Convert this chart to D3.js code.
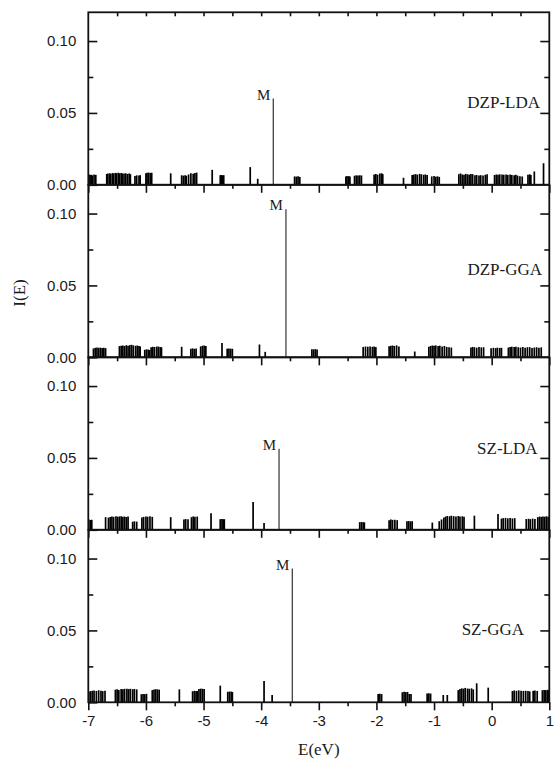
<!DOCTYPE html>
<html>
<head>
<meta charset="utf-8">
<script src="https://cdn.jsdelivr.net/npm/d3@7"></script>
<style>
  html, body { margin: 0; padding: 0; background: #fff; }
  svg { display: block; }
</style>
</head>
<body>
<svg id="chart" width="555" height="763"></svg>
<script>
// ---------------- DATA ----------------
const panelNames = ["DZP-LDA", "DZP-GGA", "SZ-LDA", "SZ-GGA"];
const xTickLabels = [-7, -6, -5, -4, -3, -2, -1, 0, 1];
const yTickLabels = [0.00, 0.05, 0.10];
const peakLabel = "M";

// [E (eV), I(E)]
const dzpLda = [
  [-6.99,0.0072],[-6.97,0.0068],[-6.95,0.0070],[-6.93,0.0066],[-6.90,0.0071],[-6.87,0.0069],
  [-6.68,0.0075],[-6.66,0.0078],[-6.63,0.0080],[-6.61,0.0077],[-6.58,0.0082],[-6.56,0.0079],[-6.53,0.0083],[-6.51,0.0081],[-6.48,0.0084],[-6.46,0.0080],[-6.43,0.0082],[-6.41,0.0079],
  [-6.38,0.0078],[-6.35,0.0080],[-6.32,0.0076],[-6.29,0.0079],[-6.27,0.0074],
  [-6.19,0.0062],[-6.16,0.0066],[-6.12,0.0064],[-6.10,0.0067],
  [-6.00,0.0080],[-5.98,0.0083],[-5.95,0.0085],[-5.92,0.0082],[-5.90,0.0084],
  [-5.57,0.0080],
  [-5.38,0.0066],[-5.35,0.0064],[-5.32,0.0067],[-5.30,0.0063],
  [-5.26,0.0072],[-5.22,0.0080],[-5.18,0.0077],[-5.15,0.0082],[-5.12,0.0085],
  [-4.85,0.0104],
  [-4.71,0.0067],[-4.69,0.0068],[-4.67,0.0066],[-4.65,0.0067],
  [-4.19,0.0123],
  [-4.06,0.0042],
  [-3.79,0.0600],
  [-3.42,0.0058],[-3.39,0.0057],[-3.36,0.0059],[-3.33,0.0055],
  [-2.53,0.0058],[-2.51,0.0061],[-2.48,0.0060],[-2.46,0.0057],
  [-2.38,0.0063],[-2.35,0.0066],[-2.32,0.0064],[-2.29,0.0066],[-2.26,0.0065],
  [-2.04,0.0072],[-2.01,0.0075],[-1.98,0.0071],[-1.94,0.0079],[-1.91,0.0080],[-1.89,0.0074],
  [-1.53,0.0049],
  [-1.38,0.0068],[-1.35,0.0072],[-1.32,0.0074],[-1.29,0.0071],[-1.25,0.0076],[-1.22,0.0073],[-1.18,0.0070],[-1.15,0.0072],[-1.12,0.0068],
  [-1.04,0.0058],[-1.00,0.0062],[-0.97,0.0056],[-0.94,0.0059],[-0.91,0.0055],
  [-0.57,0.0074],[-0.54,0.0079],[-0.51,0.0072],[-0.48,0.0070],[-0.45,0.0076],[-0.42,0.0073],[-0.39,0.0071],[-0.36,0.0075],[-0.33,0.0074],
  [-0.29,0.0066],[-0.26,0.0068],[-0.22,0.0064],[-0.19,0.0067],[-0.15,0.0065],[-0.11,0.0070],[-0.08,0.0073],
  [0.05,0.0068],[0.08,0.0072],[0.11,0.0070],[0.14,0.0073],[0.18,0.0071],[0.21,0.0070],[0.25,0.0072],[0.28,0.0069],[0.32,0.0071],[0.35,0.0068],[0.39,0.0066],[0.42,0.0070],[0.45,0.0064],
  [0.49,0.0060],[0.53,0.0058],
  [0.63,0.0070],[0.66,0.0073],[0.68,0.0069],
  [0.74,0.0093],
  [0.90,0.0150]
];

const dzpGga = [
  [-6.91,0.0062],[-6.88,0.0066],[-6.85,0.0068],[-6.82,0.0066],[-6.79,0.0067],[-6.76,0.0065],[-6.73,0.0066],[-6.70,0.0064],
  [-6.46,0.0078],[-6.43,0.0080],[-6.40,0.0082],[-6.37,0.0079],[-6.34,0.0084],[-6.31,0.0081],[-6.28,0.0085],[-6.25,0.0087],[-6.22,0.0083],[-6.18,0.0080],[-6.15,0.0082],[-6.12,0.0078],[-6.10,0.0076],
  [-6.02,0.0052],[-5.99,0.0055],[-5.96,0.0054],[-5.94,0.0051],
  [-5.91,0.0070],[-5.88,0.0073],[-5.85,0.0072],[-5.81,0.0075],[-5.78,0.0074],[-5.75,0.0071],[-5.73,0.0070],
  [-5.38,0.0073],
  [-5.22,0.0060],[-5.19,0.0062],[-5.16,0.0059],[-5.13,0.0061],
  [-5.05,0.0076],[-5.02,0.0080],[-4.99,0.0082],[-4.96,0.0078],
  [-4.68,0.0099],
  [-4.59,0.0060],[-4.56,0.0061],[-4.53,0.0060],[-4.50,0.0059],
  [-4.03,0.0089],
  [-3.93,0.0038],
  [-3.57,0.1030],
  [-3.12,0.0056],[-3.09,0.0055],[-3.06,0.0057],[-3.03,0.0054],
  [-2.23,0.0072],[-2.19,0.0075],[-2.15,0.0074],[-2.11,0.0076],[-2.07,0.0073],[-2.04,0.0075],[-2.01,0.0071],
  [-1.78,0.0077],[-1.75,0.0080],[-1.72,0.0082],[-1.69,0.0079],[-1.65,0.0083],[-1.61,0.0076],
  [-1.335,0.0040],
  [-1.09,0.0074],[-1.06,0.0079],[-1.03,0.0082],[-1.00,0.0080],[-0.97,0.0083],[-0.93,0.0078],[-0.90,0.0081],[-0.86,0.0076],[-0.82,0.0079],[-0.78,0.0072],[-0.74,0.0070],[-0.70,0.0068],
  [-0.36,0.0068],[-0.33,0.0072],[-0.30,0.0070],[-0.26,0.0067],[-0.22,0.0071],[-0.18,0.0069],[-0.14,0.0070],
  [-0.01,0.0063],[0.03,0.0066],[0.07,0.0064],[0.10,0.0067],[0.14,0.0065],[0.17,0.0066],
  [0.29,0.0068],[0.32,0.0072],[0.35,0.0074],[0.39,0.0071],[0.42,0.0073],[0.46,0.0070],[0.50,0.0068],[0.54,0.0072],[0.58,0.0067],[0.62,0.0070],[0.66,0.0071],[0.70,0.0065],[0.74,0.0068],[0.78,0.0070],[0.82,0.0066],[0.86,0.0069]
];

const szLda = [
  [-6.99,0.0072],[-6.96,0.0068],[-6.94,0.0070],
  [-6.70,0.0088],
  [-6.65,0.0085],[-6.62,0.0089],[-6.59,0.0092],[-6.56,0.0090],[-6.52,0.0094],[-6.49,0.0091],[-6.46,0.0093],[-6.43,0.0095],[-6.40,0.0090],[-6.37,0.0092],[-6.34,0.0089],[-6.31,0.0093],
  [-6.23,0.0056],[-6.20,0.0059],[-6.16,0.0057],
  [-6.07,0.0086],[-6.04,0.0090],[-6.00,0.0093],[-5.97,0.0091],[-5.93,0.0094],[-5.89,0.0090],
  [-5.57,0.0088],
  [-5.34,0.0072],[-5.31,0.0075],[-5.27,0.0073],
  [-5.21,0.0088],[-5.18,0.0093],[-5.15,0.0090],[-5.11,0.0092],
  [-4.87,0.0116],
  [-4.71,0.0074],[-4.68,0.0075],[-4.66,0.0073],[-4.64,0.0074],
  [-4.14,0.0193],
  [-3.95,0.0047],
  [-3.69,0.0563],
  [-2.29,0.0053],[-2.26,0.0054],[-2.23,0.0053],[-2.21,0.0052],
  [-1.78,0.0066],[-1.75,0.0072],[-1.72,0.0069],[-1.68,0.0070],[-1.64,0.0067],
  [-1.47,0.0060],[-1.44,0.0061],[-1.41,0.0059],[-1.38,0.0060],
  [-1.03,0.0050],
  [-0.91,0.0060],[-0.87,0.0072],[-0.83,0.0085],[-0.80,0.0092],[-0.77,0.0096],[-0.73,0.0094],[-0.70,0.0098],[-0.66,0.0095],[-0.62,0.0093],[-0.58,0.0096],[-0.55,0.0092],[-0.51,0.0094],[-0.48,0.0090],
  [-0.30,0.0098],
  [0.11,0.0110],
  [0.17,0.0078],[0.20,0.0081],[0.24,0.0083],[0.28,0.0080],[0.32,0.0082],[0.36,0.0079],[0.40,0.0081],
  [0.60,0.0075],[0.64,0.0077],[0.67,0.0074],[0.71,0.0078],[0.75,0.0076],
  [0.80,0.0088],[0.83,0.0092],[0.86,0.0090],[0.89,0.0093],[0.92,0.0091],[0.95,0.0094],[0.98,0.0090]
];

const szGga = [
  [-6.99,0.0075],[-6.96,0.0078],[-6.93,0.0080],[-6.90,0.0082],[-6.86,0.0079],[-6.82,0.0084],[-6.78,0.0080],[-6.75,0.0078],[-6.71,0.0081],
  [-6.53,0.0088],[-6.50,0.0090],[-6.47,0.0086],[-6.43,0.0092],[-6.40,0.0090],[-6.37,0.0094],[-6.33,0.0095],[-6.30,0.0092],[-6.27,0.0094],[-6.23,0.0091],[-6.20,0.0093],[-6.16,0.0090],
  [-6.08,0.0056],[-6.05,0.0058],[-6.02,0.0057],[-5.99,0.0059],
  [-5.89,0.0085],[-5.86,0.0089],[-5.83,0.0091],[-5.80,0.0090],[-5.77,0.0088],
  [-5.42,0.0090],
  [-5.19,0.0077],[-5.16,0.0080],[-5.13,0.0078],[-5.11,0.0079],
  [-5.08,0.0092],[-5.05,0.0095],[-5.02,0.0094],[-4.99,0.0093],
  [-4.71,0.0116],
  [-4.58,0.0073],[-4.55,0.0075],[-4.52,0.0074],[-4.50,0.0072],
  [-3.95,0.0148],
  [-3.81,0.0051],
  [-3.46,0.0930],
  [-1.97,0.0058],[-1.94,0.0059],[-1.91,0.0057],
  [-1.55,0.0070],[-1.52,0.0073],[-1.49,0.0071],[-1.46,0.0072],
  [-1.43,0.0058],[-1.40,0.0057],
  [-1.12,0.0062],[-1.09,0.0063],[-1.06,0.0061],
  [-0.84,0.0051],
  [-0.77,0.0051],
  [-0.58,0.0085],[-0.55,0.0092],[-0.52,0.0097],[-0.49,0.0095],[-0.46,0.0100],[-0.42,0.0096],[-0.39,0.0094],[-0.35,0.0097],[-0.32,0.0090],
  [-0.26,0.0132],
  [-0.06,0.0102],
  [0.36,0.0078],[0.39,0.0082],[0.43,0.0080],[0.47,0.0083],[0.51,0.0081],[0.55,0.0079],[0.59,0.0080],[0.63,0.0078],[0.66,0.0076],
  [0.72,0.0080],[0.75,0.0082],[0.79,0.0079],
  [0.88,0.0084],[0.91,0.0086],[0.94,0.0085],[0.97,0.0087],[0.99,0.0083]
];

const panelData = [dzpLda, dzpGga, szLda, szGga];

// ---------------- LAYOUT ----------------
const plotLeft = 88.3, plotRight = 549.3, plotTop = 12.3, plotBottom = 702.3;
const ph = (plotBottom - plotTop) / 4;
const labelRight = [540, 542, 537.5, 524];
const labelY = [101.7, 269.3, 448.3, 629.3];

const svg = d3.select("#chart");
const x = d3.scaleLinear().domain([-7, 1]).range([plotLeft, plotRight]);

const majorX = xTickLabels;
const minorX = [-6.5, -5.5, -4.5, -3.5, -2.5, -1.5, -0.5, 0.5];
const allX = [-6.5,-6,-5.5,-5,-4.5,-4,-3.5,-3,-2.5,-2,-1.5,-1,-0.5,0,0.5];

function styleAxis(g) {
  g.select(".domain").remove();
  g.selectAll(".tick line").attr("stroke", "#111").attr("stroke-width", 1.6);
  g.selectAll(".tick text")
    .attr("fill", "#1a1a1a")
    .style("font-family", "'Liberation Sans', Arial, sans-serif")
    .style("font-size", "15px");
}

panelData.forEach((data, i) => {
  const y0 = plotTop + ph * (i + 1);
  const y1 = plotTop + ph * i;
  const y = d3.scaleLinear().domain([0, 0.12]).range([y0, y1]);
  const g = svg.append("g");
  const peak = data.reduce((a, b) => (b[1] > a[1] ? b : a));

  g.selectAll("line.stick").data(data).enter().append("line")
    .attr("class", "stick")
    .attr("x1", d => x(d[0])).attr("x2", d => x(d[0]))
    .attr("y1", y(0)).attr("y2", d => y(d[1]))
    .attr("stroke", d => d === peak ? "#333" : "#000")
    .attr("stroke-width", d => d === peak ? 1.2 : 1.7);

  g.append("text")
    .attr("x", x(peak[0]) - 3)
    .attr("y", y(peak[1]) + 1)
    .attr("text-anchor", "end")
    .style("font-family", "'Liberation Serif', 'Times New Roman', serif")
    .style("font-size", "15px")
    .attr("fill", "#1a1a1a")
    .text(peakLabel);

  g.append("text")
    .attr("x", labelRight[i])
    .attr("y", labelY[i])
    .attr("dy", "0.35em")
    .attr("text-anchor", "end")
    .style("font-family", "'Liberation Serif', 'Times New Roman', serif")
    .style("font-size", "17px")
    .attr("fill", "#1a1a1a")
    .text(panelNames[i]);

  g.append("g").attr("transform", `translate(${plotLeft},0)`)
    .call(d3.axisLeft(y).tickValues(yTickLabels).tickSize(-9).tickPadding(12).tickFormat(d3.format(".2f")))
    .call(styleAxis);
  g.append("g").attr("transform", `translate(${plotLeft},0)`)
    .call(d3.axisLeft(y).tickValues([0.025, 0.075]).tickSize(-5).tickFormat(""))
    .call(styleAxis);
  g.append("g").attr("transform", `translate(${plotRight},0)`)
    .call(d3.axisRight(y).tickValues([0.05, 0.10]).tickSize(-9).tickFormat(""))
    .call(styleAxis);
  g.append("g").attr("transform", `translate(${plotRight},0)`)
    .call(d3.axisRight(y).tickValues([0.025, 0.075]).tickSize(-5).tickFormat(""))
    .call(styleAxis);

  g.append("g").attr("transform", `translate(0,${y0})`)
    .call(d3.axisBottom(x).tickValues(majorX).tickSize(8).tickPadding(5)
      .tickFormat(i === 3 ? (d => String(d)) : ""))
    .call(styleAxis);
  g.append("g").attr("transform", `translate(0,${y0})`)
    .call(d3.axisBottom(x).tickValues(minorX).tickSize(4).tickFormat(""))
    .call(styleAxis);

  if (i === 0) {
    g.append("g").attr("transform", `translate(0,${y1})`)
      .call(d3.axisTop(x).tickValues(allX).tickSize(-4).tickFormat(""))
      .call(styleAxis);
  }

  g.append("rect")
    .attr("x", plotLeft).attr("y", y1)
    .attr("width", plotRight - plotLeft).attr("height", ph)
    .attr("fill", "none").attr("stroke", "#111").attr("stroke-width", 1.8);
});

svg.append("text")
  .attr("x", (plotLeft + plotRight) / 2)
  .attr("y", 755)
  .attr("text-anchor", "middle")
  .style("font-family", "'Liberation Serif', 'Times New Roman', serif")
  .style("font-size", "17px")
  .attr("fill", "#1a1a1a")
  .text("E(eV)");

svg.append("text")
  .attr("transform", "translate(25,293) rotate(-90)")
  .attr("text-anchor", "middle")
  .style("font-family", "'Liberation Serif', 'Times New Roman', serif")
  .style("font-size", "17px")
  .attr("fill", "#1a1a1a")
  .text("I(E)");
</script>
</body>
</html>
